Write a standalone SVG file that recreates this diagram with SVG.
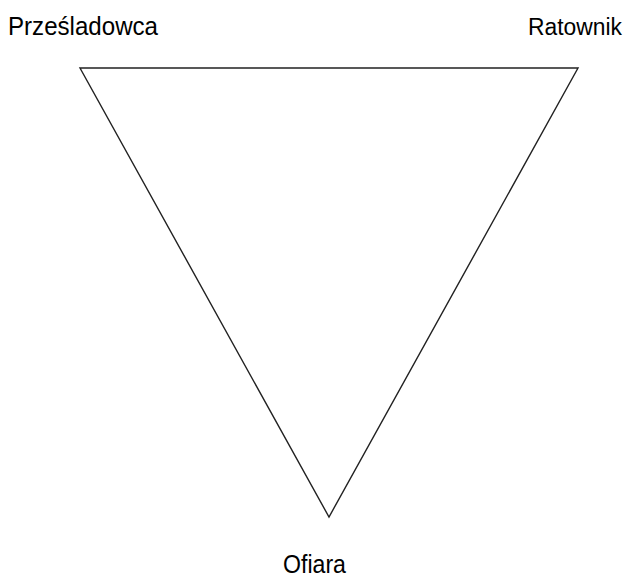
<svg xmlns="http://www.w3.org/2000/svg" width="630" height="579" viewBox="0 0 630 579">
<style>
.lbl{font-family:"Liberation Sans",Arial,sans-serif;font-size:25px;fill:#000}
.edge{fill:none;stroke:#222;stroke-width:1.4;stroke-linejoin:miter}
</style>
<rect width="630" height="579" fill="#fff"/>
<g id="connectors">
<polygon class="edge" points="80,68 578,68 329,517"/>
</g>
<g id="n-przesladowca"><text class="lbl" x="8" y="35" textLength="150" lengthAdjust="spacingAndGlyphs">Prześladowca</text></g>
<g id="n-ratownik"><text class="lbl" x="528" y="35" style="font-size:23px" textLength="94" lengthAdjust="spacingAndGlyphs">Ratownik</text></g>
<g id="n-ofiara"><text class="lbl" x="283" y="573" textLength="63" lengthAdjust="spacingAndGlyphs">Ofiara</text></g>
</svg>
